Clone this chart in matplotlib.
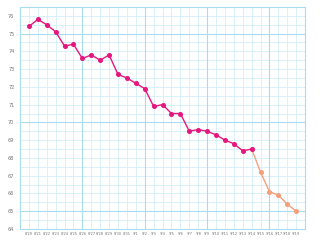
import matplotlib
matplotlib.use("Agg")
import matplotlib.pyplot as plt
from matplotlib.ticker import MultipleLocator

# daily values
dates = ["8/20", "8/21", "8/22", "8/23", "8/24", "8/25", "8/26", "8/27", "8/28", "8/29",
         "8/30", "8/31", "9/1", "9/2", "9/3", "9/4", "9/5", "9/6", "9/7", "9/8",
         "9/9", "9/10", "9/11", "9/12", "9/13", "9/14", "9/15", "9/16", "9/17", "9/18", "9/19"]
measured = [75.4, 75.8, 75.5, 75.1, 74.3, 74.4, 73.6, 73.8, 73.5, 73.8,
            72.7, 72.5, 72.2, 71.9, 70.9, 71.0, 70.5, 70.5, 69.5, 69.6,
            69.5, 69.3, 69.0, 68.8, 68.4, 68.5]
projected = [68.5, 67.2, 66.1, 65.9, 65.4, 65.0]

PINK = "#e5177e"
ORANGE = "#f4a07c"
GRID_MINOR = "#d3eefa"
GRID_MAJOR = "#a9dcef"

fig = plt.figure(figsize=(3.2, 2.4), dpi=100)
ax = fig.add_axes([0.0625, 0.046, 0.891, 0.925])

x1 = list(range(len(measured)))
x2 = list(range(len(measured) - 1, len(measured) - 1 + len(projected)))

ax.plot(x2, projected, color=ORANGE, lw=1.0, marker="o", ms=2.6, zorder=3)
ax.plot(x1, measured, color=PINK, lw=1.0, marker="o", ms=2.6, zorder=4)

ax.set_xlim(-1, len(dates))
ax.set_ylim(64, 76.5)

ax.set_xticks(range(len(dates)))
ax.set_xticklabels(dates)
ax.xaxis.set_minor_locator(MultipleLocator(1))
ax.yaxis.set_major_locator(MultipleLocator(1))
ax.yaxis.set_minor_locator(MultipleLocator(0.5))

# weekly / 5 kg lines darker
ax.grid(True, which="minor", color=GRID_MINOR, lw=0.6)
ax.grid(True, which="major", axis="y", color=GRID_MINOR, lw=0.6)
ax.grid(True, which="major", axis="x", color=GRID_MINOR, lw=0.6)
for v in [65, 70, 75]:
    ax.axhline(v, color=GRID_MAJOR, lw=0.8, zorder=1)
for i in [6, 13, 20, 27]:
    ax.axvline(i, color=GRID_MAJOR, lw=0.8, zorder=1)
ax.set_axisbelow(True)

for s in ax.spines.values():
    s.set_color(GRID_MAJOR)
    s.set_linewidth(0.8)

ax.tick_params(axis="both", which="both", length=0, colors="#777777")
ax.tick_params(axis="x", labelsize=2.6, pad=2)
ax.tick_params(axis="y", labelsize=3.6, pad=4)

fig.savefig("out.png", dpi=100)
